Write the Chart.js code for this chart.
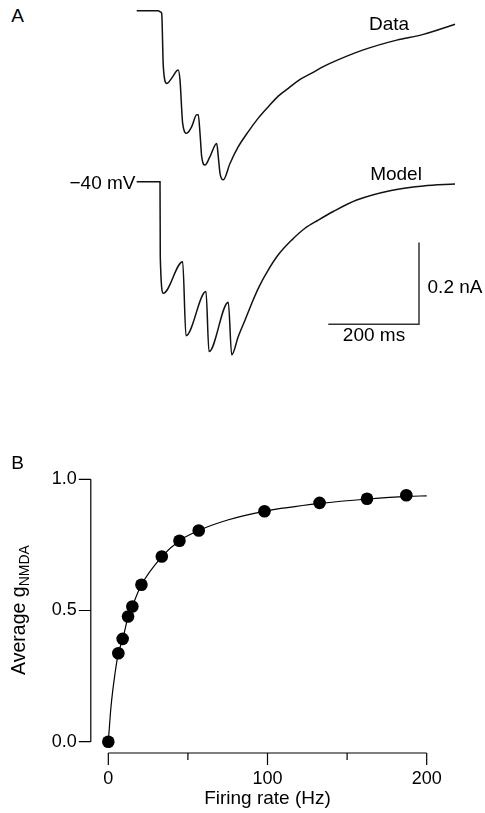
<!DOCTYPE html>
<html>
<head>
<meta charset="utf-8">
<script src="https://cdn.jsdelivr.net/npm/chart.js@4.4.0/dist/chart.umd.min.js"></script>
<style>
  body { margin: 0; background: #fff; }
  #page { position: relative; width: 485px; height: 813px; overflow: hidden; font-family: "Liberation Sans", Arial, sans-serif; color: #000; }
  canvas { position: absolute; }
  #traces { left: 130px; top: 0px; }
  #rate { left: 0px; top: 440px; }
  .lbl { position: absolute; line-height: 1; white-space: nowrap; transform: translate(-50%, -50%); }
  #ytitle { transform: translate(-50%, -50%) rotate(-90deg); font-size: 19.5px; }
  #ytitle sub { font-size: 14px; vertical-align: -4px; }
</style>
</head>
<body>
<div id="page">
  <canvas id="traces" width="340" height="370"></canvas>
  <canvas id="rate" width="485" height="373"></canvas>
  <div class="lbl" style="left:17.5px; top:15px; font-size:19px;">A</div>
  <div class="lbl" style="left:389px; top:22.5px; font-size:19px;">Data</div>
  <div class="lbl" style="left:396px; top:172.5px; font-size:19px;">Model</div>
  <div class="lbl" style="left:102.5px; top:181.7px; font-size:19px;">−40 mV</div>
  <div class="lbl" style="left:455px; top:286px; font-size:19px;">0.2 nA</div>
  <div class="lbl" style="left:374px; top:333.5px; font-size:19px;">200 ms</div>
  <div class="lbl" style="left:17.5px; top:461.7px; font-size:19px;">B</div>
  <div class="lbl" id="ytitle" style="left:20px; top:610px;">Average g<sub>NMDA</sub></div>
  <div class="lbl" style="left:267.5px; top:796.7px; font-size:19px;">Firing rate (Hz)</div>
</div>
<script>
// Panel A: recorded current (ms, nA relative to baseline)
const dataTime = [0, 47.6, 52.5, 55.1, 58.7, 66.2, 77.2, 88.2, 91.7, 95.5, 101.4, 110.3, 121.3, 132.3, 135.8, 139.6, 143.3, 150.6, 161.6, 176.4, 179.9, 183.7, 191.0, 205.7, 224.0, 246.1, 268.1, 290.2, 312.2, 334.3, 356.3, 385.9, 411.5, 426.2, 499.7, 573.3, 632.0, 701.9]
const dataCurrent = [0, 0, -0.003, -0.006, -0.137, -0.178, -0.165, -0.147, -0.145, -0.170, -0.276, -0.300, -0.284, -0.255, -0.255, -0.300, -0.357, -0.378, -0.357, -0.325, -0.357, -0.398, -0.414, -0.374, -0.333, -0.296, -0.263, -0.235, -0.209, -0.190, -0.171, -0.153, -0.137, -0.129, -0.096, -0.072, -0.058, -0.033]

// Panel A: model current
const modelTime = [0, 51.4, 52.0, 58.7, 101.4, 108.7, 152.8, 159.4, 202.0, 209.5, 224.0, 238.8, 253.6, 268.1, 290.2, 312.2, 341.8, 371.1, 400.4, 433.5, 485.1, 558.5, 632.0, 701.9]
const modelCurrent = [0, 0, -0.184, -0.273, -0.196, -0.377, -0.269, -0.416, -0.295, -0.424, -0.379, -0.339, -0.298, -0.261, -0.216, -0.179, -0.143, -0.114, -0.094, -0.073, -0.045, -0.022, -0.0105, -0.0056]

// scale bar: 200 ms, 0.2 nA
const barTime = [422.5, 622.5, 622.5]
const barCurrent = [-0.349, -0.349, -0.149]

// Panel B: firing rate vs average gNMDA
const rateHz = [0, 6.3, 9.0, 12.4, 15.1, 20.8, 33.6, 44.7, 56.8, 98.1, 132.7, 162.5, 187.2]
const gAvg = [0, 0.337, 0.392, 0.477, 0.515, 0.598, 0.706, 0.766, 0.805, 0.878, 0.910, 0.926, 0.939]
const fitHz = [0, 1.7, 4.2, 6.3, 9, 12.4, 15, 20.8, 33.6, 44.7, 56.8, 75, 98, 133, 163, 188, 200]
const fitG = [0, 0.134, 0.26, 0.337, 0.39, 0.475, 0.515, 0.598, 0.705, 0.766, 0.805, 0.845, 0.878, 0.908, 0.925, 0.935, 0.937]
const xTickVals = [0, 50, 100, 150, 200]
const yTickVals = [0, 0.5, 1.0]

const pts = (xs, ys) => xs.map((x, i) => ({ x: x, y: ys[i] }))

new Chart(document.getElementById('traces'), {
    type: 'line',
    data: {
        datasets: [{
            label: 'Data',
            data: pts(dataTime, dataCurrent),
            yAxisID: 'yData',
            borderColor: '#111',
            borderWidth: 1.5,
            pointRadius: 0,
            cubicInterpolationMode: 'monotone',
            clip: false
        },
        {
            label: 'Model',
            data: pts(modelTime, modelCurrent),
            yAxisID: 'yModel',
            borderColor: '#111',
            borderWidth: 1.5,
            pointRadius: 0,
            cubicInterpolationMode: 'monotone',
            clip: false
        },
        {
            label: 'bar',
            data: pts(barTime, barCurrent),
            yAxisID: 'yModel',
            borderColor: '#333',
            borderWidth: 1.5,
            pointRadius: 0,
            tension: 0,
            clip: false
        }]
    },
    options: {
        responsive: false,
        animation: false,
        layout: { padding: 0 },
        plugins: { legend: { display: false }, tooltip: { enabled: false } },
        scales: {
            x: { type: 'linear', display: false, min: -14.77, max: 734.95 },
            yData: { type: 'linear', display: false, min: -0.8796, max: 0.0262 },
            yModel: { type: 'linear', display: false, min: -0.461, max: 0.4448 }
        }
    }
});

// axis lines with detached ends, drawn through the scales
const axesPlugin = {
    id: 'detachedAxes',
    afterDatasetsDraw(chart) {
        const ctx = chart.ctx
        const xs = chart.scales.x, ys = chart.scales.y
        const left = chart.chartArea.left, bottom = chart.chartArea.bottom
        ctx.save()
        ctx.strokeStyle = '#000'
        ctx.lineWidth = 1.2
        ctx.beginPath()
        ctx.moveTo(left, ys.getPixelForValue(0))
        ctx.lineTo(left, ys.getPixelForValue(1))
        for (const v of yTickVals) {
            const py = ys.getPixelForValue(v)
            ctx.moveTo(left - 12, py)
            ctx.lineTo(left, py)
        }
        ctx.moveTo(xs.getPixelForValue(0), bottom)
        ctx.lineTo(xs.getPixelForValue(200), bottom)
        for (const v of xTickVals) {
            const px = xs.getPixelForValue(v)
            ctx.moveTo(px, bottom)
            ctx.lineTo(px, bottom + (v % 100 === 0 ? 12 : 7))
        }
        ctx.stroke()
        ctx.restore()
    }
}

new Chart(document.getElementById('rate'), {
    type: 'line',
    data: {
        datasets: [{
            label: 'fit',
            data: pts(fitHz, fitG),
            borderColor: '#000',
            borderWidth: 1.2,
            pointRadius: 0,
            cubicInterpolationMode: 'monotone',
            clip: false
        },
        {
            label: 'points',
            data: pts(rateHz, gAvg),
            showLine: false,
            pointRadius: 6.3,
            pointBackgroundColor: '#000',
            pointBorderColor: '#000',
            pointBorderWidth: 0,
            clip: false
        }]
    },
    options: {
        responsive: false,
        animation: false,
        layout: { padding: { left: 0, top: 39.3, right: 58.3, bottom: 0 } },
        plugins: { legend: { display: false }, tooltip: { enabled: false } },
        scales: {
            x: {
                type: 'linear', min: -11, max: 200,
                grid: { display: false, drawTicks: false },
                border: { display: false },
                afterBuildTicks: (s) => { s.ticks = xTickVals.map(v => ({ value: v })) },
                afterFit: (s) => { s.height = 60 },
                ticks: {
                    autoSkip: false, maxRotation: 0, padding: 15,
                    color: '#000', font: { family: 'Liberation Sans', size: 18 },
                    callback: (v) => (v % 100 === 0 ? String(v) : '')
                }
            },
            y: {
                type: 'linear', min: -0.043, max: 1.0,
                grid: { display: false, drawTicks: false },
                border: { display: false },
                afterBuildTicks: (s) => { s.ticks = yTickVals.map(v => ({ value: v })) },
                afterFit: (s) => { s.width = 90.8 },
                ticks: {
                    autoSkip: false, padding: 14,
                    color: '#000', font: { family: 'Liberation Sans', size: 18 },
                    callback: (v) => Number(v).toFixed(1)
                }
            }
        }
    },
    plugins: [axesPlugin]
});
</script>
</body>
</html>
